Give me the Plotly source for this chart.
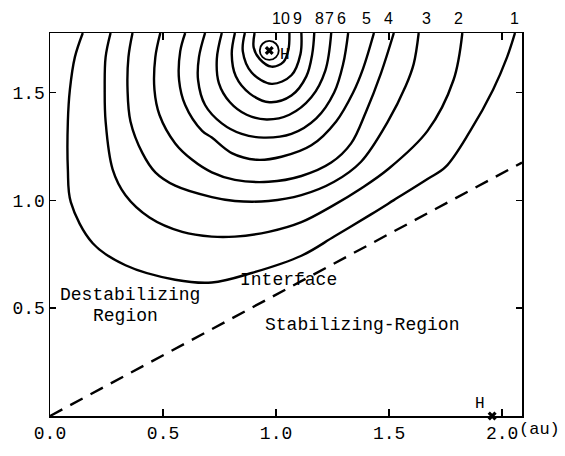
import plotly.graph_objects as go

# contour lines (au), outermost (1) to innermost (10)
c1_x = [0.145, 0.110, 0.088, 0.079, 0.079, 0.092, 0.189, 0.334, 0.554, 0.716, 0.892, 1.112, 1.257, 1.420, 1.521, 1.670, 1.750, 1.859, 1.960, 2.022, 2.057]
c1_y = [1.776, 1.664, 1.513, 1.366, 1.144, 0.992, 0.801, 0.699, 0.632, 0.619, 0.663, 0.743, 0.832, 0.935, 1.001, 1.099, 1.155, 1.322, 1.513, 1.664, 1.776]
c2_x = [0.268, 0.246, 0.242, 0.246, 0.277, 0.334, 0.440, 0.585, 0.716, 0.818, 0.967, 1.112, 1.257, 1.376, 1.495, 1.670, 1.785, 1.824]
c2_y = [1.776, 1.664, 1.513, 1.366, 1.144, 1.024, 0.921, 0.854, 0.832, 0.832, 0.854, 0.899, 0.979, 1.055, 1.144, 1.322, 1.558, 1.776]
c3_x = [0.365, 0.347, 0.343, 0.356, 0.409, 0.466, 0.554, 0.716, 0.818, 0.967, 1.112, 1.257, 1.376, 1.495, 1.574, 1.609, 1.631]
c3_y = [1.776, 1.664, 1.513, 1.366, 1.219, 1.130, 1.068, 1.015, 0.997, 0.997, 1.024, 1.086, 1.179, 1.366, 1.531, 1.633, 1.776]
c4_x = [0.488, 0.466, 0.462, 0.484, 0.554, 0.629, 0.716, 0.818, 0.967, 1.112, 1.244, 1.332, 1.398, 1.464, 1.521]
c4_y = [1.776, 1.664, 1.513, 1.397, 1.264, 1.188, 1.130, 1.095, 1.086, 1.113, 1.175, 1.264, 1.411, 1.589, 1.776]
c5_x = [0.598, 0.576, 0.571, 0.598, 0.673, 0.716, 0.804, 0.914, 1.024, 1.156, 1.266, 1.341, 1.385, 1.433]
c5_y = [1.776, 1.691, 1.558, 1.442, 1.322, 1.291, 1.219, 1.188, 1.202, 1.255, 1.366, 1.500, 1.611, 1.776]
c6_x = [0.686, 0.659, 0.655, 0.686, 0.760, 0.848, 0.945, 1.068, 1.178, 1.257, 1.297, 1.319]
c6_y = [1.776, 1.664, 1.558, 1.442, 1.357, 1.308, 1.291, 1.308, 1.380, 1.500, 1.633, 1.776]
c7_x = [0.760, 0.738, 0.747, 0.796, 0.870, 0.958, 1.059, 1.156, 1.218, 1.244]
c7_y = [1.776, 1.656, 1.544, 1.455, 1.397, 1.375, 1.397, 1.478, 1.602, 1.776]
c8_x = [0.818, 0.804, 0.822, 0.884, 0.971, 1.068, 1.134, 1.160, 1.169]
c8_y = [1.776, 1.678, 1.575, 1.495, 1.455, 1.486, 1.575, 1.678, 1.776]
c9_x = [0.862, 0.853, 0.892, 0.980, 1.068, 1.108, 1.112]
c9_y = [1.776, 1.691, 1.593, 1.540, 1.580, 1.678, 1.776]
c10_x = [0.905, 0.901, 0.927, 0.980, 1.033, 1.055, 1.059]
c10_y = [1.776, 1.709, 1.656, 1.620, 1.642, 1.700, 1.776]

contour_labels = ["10", "9", "8", "7", "6", "5", "4", "3", "2", "1"]
contour_label_x = [1.024, 1.094, 1.191, 1.235, 1.288, 1.402, 1.499, 1.666, 1.807, 2.053]

interface_x = [0.0, 2.088]
interface_y = [0.0, 1.175]

point_b = (0.970, 1.695)
point_h = (1.956, 0.0)

x_ticks = [0.0, 0.5, 1.0, 1.5, 2.0]
x_tick_text = ["0.0", "0.5", "1.0", "1.5", "2.0"]
y_ticks = [0.5, 1.0, 1.5]
y_tick_text = ["0.5", "1.0", "1.5"]

MONO = "Liberation Mono"

fig = go.Figure()
contours = [(c1_x, c1_y), (c2_x, c2_y), (c3_x, c3_y), (c4_x, c4_y), (c5_x, c5_y),
            (c6_x, c6_y), (c7_x, c7_y), (c8_x, c8_y), (c9_x, c9_y), (c10_x, c10_y)]
for cx, cy in contours:
    fig.add_trace(go.Scatter(x=cx, y=cy, mode="lines",
                             line=dict(color="black", width=2.4, shape="spline", smoothing=1.0),
                             hoverinfo="skip", showlegend=False))

fig.add_trace(go.Scatter(x=interface_x, y=interface_y, mode="lines",
                         line=dict(color="black", width=2.4, dash="14px,9px"),
                         hoverinfo="skip", showlegend=False))

# point B (circled x) and point H (x on axis)
fig.add_trace(go.Scatter(x=[point_b[0]], y=[point_b[1]], mode="markers",
                         marker=dict(symbol="circle-open", size=19, color="black", line=dict(width=1.8)),
                         hoverinfo="skip", showlegend=False))
fig.add_trace(go.Scatter(x=[point_b[0], point_h[0]], y=[point_b[1], point_h[1]], mode="markers",
                         marker=dict(symbol="x", size=8, color="black", line=dict(width=0)),
                         hoverinfo="skip", showlegend=False, cliponaxis=False))

annotations = []
for lab, lx in zip(contour_labels, contour_label_x):
    annotations.append(dict(x=lx, y=1, xref="x", yref="paper", text=lab, showarrow=False,
                            yanchor="bottom", yshift=4, font=dict(family="Liberation Sans", size=16, color="black")))

txt_font = dict(family=MONO, size=18, color="black")
annotations += [
    dict(x=0.354, y=0.562, xref="x", yref="y", text="Destabilizing", showarrow=False, font=txt_font),
    dict(x=0.332, y=0.464, xref="x", yref="y", text="Region", showarrow=False, font=txt_font),
    dict(x=1.055, y=0.632, xref="x", yref="y", text="Interface", showarrow=False, font=txt_font),
    dict(x=1.378, y=0.423, xref="x", yref="y", text="Stabilizing-Region", showarrow=False, font=txt_font),
    dict(x=point_b[0], y=point_b[1], xref="x", yref="y", text="H", showarrow=False,
         xshift=16, yshift=-5, font=dict(family=MONO, size=16, color="black")),
    dict(x=point_h[0], y=point_h[1], xref="x", yref="y", text="H", showarrow=False,
         xshift=-12, yshift=12, font=dict(family=MONO, size=16, color="black")),
    dict(x=2.0, y=0, xref="x", yref="paper", text="(au)", showarrow=False,
         xanchor="left", yanchor="top", xshift=15, yshift=-2, font=dict(family=MONO, size=17, color="black")),
]

axis_common = dict(showgrid=False, zeroline=False, showline=True, linecolor="black", linewidth=1.5,
                   mirror="ticks", ticks="inside", tickcolor="black", tickwidth=1.5,
                   tickfont=dict(family=MONO, size=18, color="black"))

fig.update_layout(
    width=565, height=456,
    margin=dict(l=47, r=43, t=33, b=24),
    paper_bgcolor="white", plot_bgcolor="white",
    xaxis=dict(range=[0, 2.088], tickvals=x_ticks, ticktext=x_tick_text, ticklen=7, **axis_common),
    yaxis=dict(range=[0, 1.776], tickvals=y_ticks, ticktext=y_tick_text, ticklen=6, **axis_common),
    annotations=annotations,
    showlegend=False,
    hovermode=False,
)

fig.write_html("out.html", config={"displayModeBar": False, "staticPlot": True},
               post_script="document.body.style.margin='0';document.body.style.overflow='hidden';")
